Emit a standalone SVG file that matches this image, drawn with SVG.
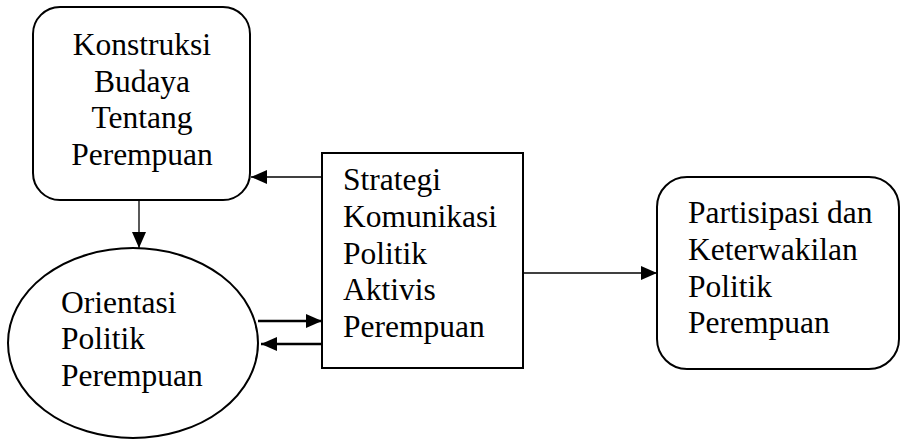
<svg xmlns="http://www.w3.org/2000/svg" width="901" height="440" viewBox="0 0 901 440">
<style>
.shape{fill:#fff;stroke:#000;stroke-width:2}
.thin{stroke:#000;stroke-width:1.3;fill:none}
.thick{stroke:#000;stroke-width:2.5;fill:none}
</style>
<defs>
<marker id="ah" markerUnits="userSpaceOnUse" markerWidth="17" markerHeight="14" refX="16" refY="7" orient="auto">
<path d="M0,0 L16,7 L0,14 z" fill="#000"/>
</marker>
</defs>
<rect width="901" height="440" fill="#fff"/>
<g font-family="Liberation Serif, Times New Roman, Times, serif" font-size="31.5" fill="#000">
<g id="konstruksi">
<rect class="shape" x="33" y="7" width="217" height="193" rx="27" ry="27"/>
<g text-anchor="middle">
<text x="142" y="55">Konstruksi</text>
<text x="142" y="92">Budaya</text>
<text x="142" y="128">Tentang</text>
<text x="142" y="165">Perempuan</text>
</g>
</g>
<g id="orientasi">
<ellipse class="shape" cx="133" cy="343" rx="125" ry="95"/>
<text x="61" y="313">Orientasi</text>
<text x="61" y="349">Politik</text>
<text x="61" y="386">Perempuan</text>
</g>
<g id="strategi">
<rect class="shape" x="322" y="153" width="201" height="215"/>
<text x="343" y="190">Strategi</text>
<text x="343" y="227">Komunikasi</text>
<text x="343" y="264">Politik</text>
<text x="343" y="300">Aktivis</text>
<text x="343" y="337">Perempuan</text>
</g>
<g id="partisipasi">
<rect class="shape" x="657" y="177" width="242" height="192" rx="30" ry="30"/>
<text x="688" y="223">Partisipasi dan</text>
<text x="688" y="260">Keterwakilan</text>
<text x="688" y="297">Politik</text>
<text x="688" y="333">Perempuan</text>
</g>
</g>
<g id="connectors">
<line class="thin" x1="322" y1="177" x2="251" y2="177" marker-end="url(#ah)"/>
<line class="thin" x1="139" y1="200" x2="139" y2="248" marker-end="url(#ah)"/>
<line class="thick" x1="258" y1="321" x2="322" y2="321" marker-end="url(#ah)"/>
<line class="thick" x1="322" y1="344" x2="261" y2="344" marker-end="url(#ah)"/>
<line class="thin" x1="523" y1="273" x2="657" y2="273" marker-end="url(#ah)"/>
</g>
</svg>
